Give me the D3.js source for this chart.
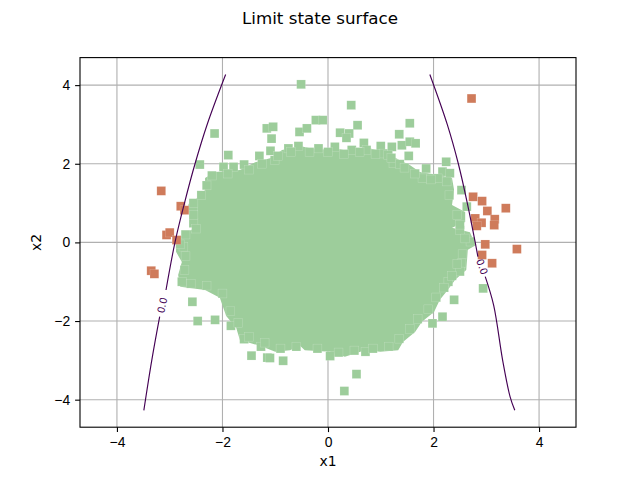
<!DOCTYPE html>
<html>
<head>
<meta charset="utf-8">
<script src="https://cdn.jsdelivr.net/npm/d3@7"></script>
<style>
  body { margin: 0; background: #fff; }
  svg { display: block; font-family: "DejaVu Sans", sans-serif; }
  .axis text { font-size: 13.9px; fill: #000; }
  .axis line { stroke: #000; stroke-width: 1.1; }
  .axis path { display: none; }
  .grid line { stroke: #b0b0b0; stroke-width: 1.1; }
</style>
</head>
<body>
<div id="chart"></div>
<script>
const xTicks = [-4, -2, 0, 2, 4];
const yTicks = [-4, -2, 0, 2, 4];

// solid part of the sample cloud (outline of overlapping markers)
const coreOutline = [
  [-2.33, 1.64], [-2.14, 1.79], [-1.67, 1.84], [-1.38, 2.04], [-1.10, 2.14], [-0.87, 2.35],
  [-0.53, 2.45], [-0.19, 2.35], [0.13, 2.40], [0.45, 2.30], [0.70, 2.42], [1.08, 2.30],
  [1.36, 2.09], [1.55, 1.97], [1.74, 1.79], [2.12, 1.71], [2.35, 1.64], [2.39, 1.33],
  [2.35, 0.95], [2.60, 0.77], [2.60, 0.52], [2.35, 0.37], [2.69, 0.26], [2.80, -0.07],
  [2.65, -0.19], [2.62, -0.70], [2.41, -0.95], [2.27, -1.21], [2.12, -1.46], [2.01, -1.77],
  [1.78, -2.02], [1.65, -2.28], [1.42, -2.53], [1.33, -2.74], [0.99, -2.78], [0.70, -2.74],
  [0.32, -2.91], [0.04, -2.78], [-0.44, -2.74], [-0.53, -2.63], [-0.72, -2.74], [-1.00, -2.78],
  [-1.29, -2.63], [-1.67, -2.48], [-1.74, -2.17], [-1.93, -1.87], [-2.05, -1.41], [-2.33, -1.21],
  [-2.80, -1.13], [-2.84, -0.83], [-2.77, -0.50], [-2.88, -0.24], [-2.88, 0.06], [-2.69, 0.26],
  [-2.43, 0.42], [-2.62, 0.62], [-2.65, 0.95], [-2.48, 1.13], [-2.33, 1.33]
];

// samples in the safe domain that stand out of the dense core
const safePoints = [
  [-0.51, 4.02], [0.44, 3.49], [-2.15, 2.77], [-1.89, 2.22], [-2.43, 1.98], [-1.98, 1.92],
  [-1.79, 1.92], [-1.59, 1.98], [-1.30, 2.20], [-1.16, 2.90], [-1.07, 2.64], [-1.09, 2.33],
  [-1.04, 2.94], [-0.54, 2.81], [-0.40, 2.90], [-0.23, 3.11], [-0.10, 3.11], [0.23, 2.79],
  [0.40, 2.77], [0.35, 2.66], [0.56, 2.98], [0.68, 2.53], [0.73, 2.35], [1.00, 2.45],
  [1.05, 2.26], [-0.75, 2.39], [-0.56, 2.45], [-0.18, 2.39], [0.13, 2.43], [0.45, 2.35],
  [-1.01, 2.09], [1.55, 3.03], [1.35, 2.75], [1.21, 2.43], [1.40, 2.47], [1.55, 2.56],
  [1.66, 2.52], [1.53, 2.20], [1.14, 2.22], [1.24, 2.01], [1.36, 1.99], [2.24, 2.05],
  [1.86, 1.88], [2.17, 1.80], [2.31, 1.76], [1.79, 1.63], [2.08, 1.63],
  [2.53, 1.33], [2.63, 0.91], [2.50, 0.31], [2.70, 0.02], [2.53, -0.53], [2.50, -0.74],
  [2.28, -1.00], [2.94, -1.17], [2.39, -1.46], [2.17, -1.89], [1.98, -2.06],
  [-2.55, 0.49], [-2.56, 0.87], [-2.74, -0.11], [-2.77, -1.00],
  [-2.57, -1.51], [-2.47, -2.00], [-2.14, -1.97], [-1.84, -2.12], [-1.59, -2.46],
  [-1.45, -2.88], [-1.27, -2.65], [-1.15, -2.93], [-1.10, -2.94],
  [-0.85, -3.01], [0.04, -2.89], [0.54, -3.35], [0.31, -3.78], [0.71, -2.78],
  // samples sitting on the rim of the core
  [-2.20, 1.70], [-1.90, 1.75], [-1.50, 1.85], [-1.25, 2.00], [-0.95, 2.20], [-0.70, 2.30],
  [-0.35, 2.30], [0.00, 2.30], [0.30, 2.25], [0.60, 2.30], [0.90, 2.25], [1.20, 2.15],
  [1.45, 1.90], [1.65, 1.75], [1.95, 1.60], [2.25, 1.55],
  [2.30, 1.20], [2.45, 0.70], [2.50, 0.45], [2.60, 0.10], [2.55, -0.30], [2.45, -0.55],
  [2.35, -0.85], [2.20, -1.15], [2.05, -1.40], [1.90, -1.70], [1.70, -1.95], [1.55, -2.20],
  [1.35, -2.45], [1.15, -2.65],
  [0.85, -2.70], [0.50, -2.75], [0.20, -2.80], [-0.20, -2.70], [-0.60, -2.65], [-0.90, -2.70],
  [-1.20, -2.55], [-1.50, -2.40],
  [-1.70, -2.05], [-1.85, -1.75], [-2.00, -1.30], [-2.30, -1.10], [-2.60, -1.05], [-2.72, -0.70],
  [-2.70, -0.35], [-2.80, -0.05], [-2.70, 0.20], [-2.50, 0.35], [-2.55, 0.70], [-2.55, 1.00],
  [-2.40, 1.20], [-2.30, 1.45]
];

// samples in the failure domain
const failPoints = [
  [2.72, 3.66], [-3.16, 1.31], [-2.79, 0.92], [-2.72, 0.82], [-3.06, 0.19], [-3.00, 0.25],
  [-2.87, 0.06], [-3.35, -0.72], [-3.29, -0.80],
  [2.75, 1.16], [2.92, 1.05], [3.02, 0.80], [3.37, 0.87], [2.79, 0.61], [2.91, 0.50],
  [2.82, 0.42], [3.16, 0.59], [3.15, 0.44], [2.98, -0.05], [2.92, -0.32], [3.11, -0.53],
  [3.58, -0.17]
];

// 0.0 level of the limit state function, broken where the label sits
const contourLeft = [
  [-1.94, 4.27], [-2.29, 3.0], [-2.52, 2.0], [-2.72, 1.0], [-2.90, 0.0], [-3.07, -1.21],
  null,
  [-3.19, -1.89], [-3.34, -3.0], [-3.49, -4.27]
];
const contourRight = [
  [1.93, 4.27], [2.26, 3.0], [2.47, 2.0], [2.64, 1.0], [2.79, 0.0], [2.84, -0.36],
  null,
  [2.98, -0.87], [3.14, -1.6], [3.31, -3.0], [3.45, -3.92], [3.54, -4.27]
];
const contourLabels = [
  { text: '0.0', pos: [-3.14, -1.6], from: [-3.07, -1.21], to: [-3.19, -1.89] },
  { text: '0.0', pos: [2.92, -0.62], from: [2.84, -0.36], to: [2.98, -0.87] }
];

const width = 640, height = 480;
const margin = { top: 57.6, right: 64, bottom: 52.8, left: 80 };

const svg = d3.select('#chart').append('svg')
  .attr('width', width)
  .attr('height', height);

const x = d3.scaleLinear().domain([-4.7, 4.7]).range([margin.left, width - margin.right]);
const y = d3.scaleLinear().domain([-4.7, 4.7]).range([height - margin.bottom, margin.top]);

const plotW = width - margin.left - margin.right;
const plotH = height - margin.top - margin.bottom;

svg.append('clipPath').attr('id', 'clip')
  .append('rect')
  .attr('x', margin.left).attr('y', margin.top)
  .attr('width', plotW).attr('height', plotH);

// grid
svg.append('g').attr('class', 'grid')
  .selectAll('line.gx').data(xTicks).join('line')
  .attr('x1', d => x(d)).attr('x2', d => x(d))
  .attr('y1', margin.top).attr('y2', height - margin.bottom);
svg.select('.grid')
  .selectAll('line.gy').data(yTicks).join('line')
  .attr('class', 'gy')
  .attr('x1', margin.left).attr('x2', width - margin.right)
  .attr('y1', d => y(d)).attr('y2', d => y(d));

const plot = svg.append('g').attr('clip-path', 'url(#clip)');

const green = '#9dcd9b';
const orange = '#cf7b5b';
const markerSize = 8.8;

plot.append('path')
  .datum(coreOutline)
  .attr('d', d3.line().x(d => x(d[0])).y(d => y(d[1])).curve(d3.curveLinearClosed))
  .attr('fill', green);

plot.selectAll('rect.safe').data(safePoints).join('rect')
  .attr('class', 'safe')
  .attr('x', d => x(d[0]) - markerSize / 2)
  .attr('y', d => y(d[1]) - markerSize / 2)
  .attr('width', markerSize)
  .attr('height', markerSize)
  .attr('fill', green)
  .attr('stroke', '#ffffff')
  .attr('stroke-opacity', 0.3)
  .attr('stroke-width', 0.5);

plot.selectAll('rect.fail').data(failPoints).join('rect')
  .attr('class', 'fail')
  .attr('x', d => x(d[0]) - markerSize / 2)
  .attr('y', d => y(d[1]) - markerSize / 2)
  .attr('width', markerSize)
  .attr('height', markerSize)
  .attr('fill', orange)
  .attr('stroke', '#ffffff')
  .attr('stroke-opacity', 0.3)
  .attr('stroke-width', 0.5);

const contourLine = d3.line()
  .defined(d => d !== null)
  .x(d => x(d[0]))
  .y(d => y(d[1]))
  .curve(d3.curveCatmullRom);

[contourLeft, contourRight].forEach(c => {
  plot.append('path')
    .datum(c)
    .attr('d', contourLine)
    .attr('fill', 'none')
    .attr('stroke', '#440154')
    .attr('stroke-width', 1.15);
});

contourLabels.forEach(l => {
  let ang = Math.atan2(y(l.to[1]) - y(l.from[1]), x(l.to[0]) - x(l.from[0])) * 180 / Math.PI;
  if (ang > 90) ang -= 180;
  if (ang < -90) ang += 180;
  svg.append('text')
    .attr('transform', `translate(${x(l.pos[0])},${y(l.pos[1])}) rotate(${ang})`)
    .attr('text-anchor', 'middle')
    .attr('dominant-baseline', 'central')
    .attr('font-size', '10px')
    .attr('fill', '#440154')
    .text(l.text);
});

// axes
svg.append('g').attr('class', 'axis')
  .attr('transform', `translate(0,${height - margin.bottom})`)
  .call(d3.axisBottom(x).tickValues(xTicks).tickSize(4.9).tickPadding(4.6));

svg.append('g').attr('class', 'axis')
  .attr('transform', `translate(${margin.left},0)`)
  .call(d3.axisLeft(y).tickValues(yTicks).tickSize(4.9).tickPadding(4.9));

// spines
svg.append('rect')
  .attr('x', margin.left).attr('y', margin.top)
  .attr('width', plotW).attr('height', plotH)
  .attr('fill', 'none')
  .attr('stroke', '#000')
  .attr('stroke-width', 1.1);

svg.append('text')
  .attr('x', (margin.left + width - margin.right) / 2)
  .attr('y', 466)
  .attr('text-anchor', 'middle')
  .attr('font-size', '13.9px')
  .text('x1');

svg.append('text')
  .attr('transform', `translate(41,${(margin.top + height - margin.bottom) / 2}) rotate(-90)`)
  .attr('text-anchor', 'middle')
  .attr('font-size', '13.9px')
  .text('x2');

svg.append('text')
  .attr('x', width / 2)
  .attr('y', 24)
  .attr('text-anchor', 'middle')
  .attr('font-size', '16.7px')
  .text('Limit state surface');
</script>
</body>
</html>
